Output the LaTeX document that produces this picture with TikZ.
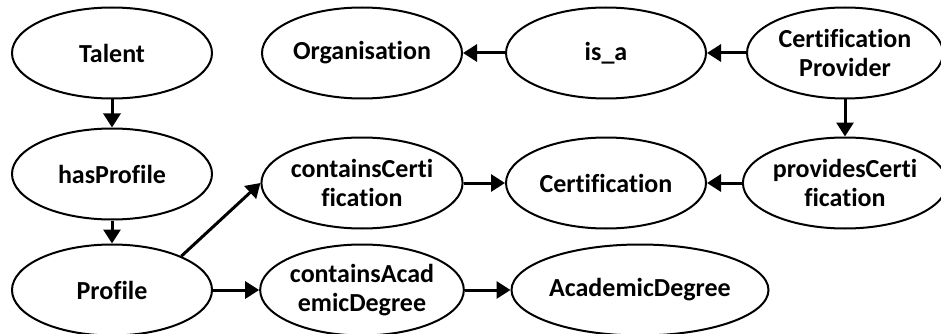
\documentclass[tikz,border=0pt]{standalone}
\usepackage{fontspec}
\setmainfont{Carlito}[Ligatures={NoCommon}]
\usetikzlibrary{shapes.geometric,arrows.meta}
\tikzset{concept/.style={ellipse, draw, line width=2pt, minimum width=200pt,
    minimum height=91pt, inner sep=0pt, align=center,
    font=\bfseries\fontsize{26}{29}\selectfont},
    link/.style={line width=3pt, -{Triangle[length=14pt,width=17pt]}}}

\begin{document}
\begin{tikzpicture}[x=1pt,y=1pt]
     \useasboundingbox (0,0) rectangle (941,-334);
     % left column
     \node[concept] (talent) at (112,-53) {Talent};
     \node[concept] (hasprofile) at (112,-174) {hasProfile};
     \node[concept] (profile) at (112,-290) {Profile};
     % middle columns
     \node[concept] (organisation) at (362,-53) {Organisation};
     \node[concept] (containscert) at (362,-183) {containsCerti\\fication};
     \node[concept] (containsacad) at (362,-290) {containsAcad\\emicDegree};
     \node[concept] (isa) at (606,-53) {is\_a};
     \node[concept] (certification) at (606,-183) {Certification};
     \node[concept, minimum width=254pt] (academicdegree) at (640,-290) {AcademicDegree};
     % right column
     \node[concept, minimum width=196pt] (provider) at (845,-53) {Certification\\Provider};
     \node[concept, minimum width=196pt] (provides) at (845,-183) {providesCerti\\fication};
     % links
     \draw[link] (talent) -- (hasprofile);
     \draw[link] (hasprofile) -- (profile);
     \draw[link] (profile.26) -- (containscert.west);
     \draw[link] (profile) -- (containsacad);
     \draw[link] (containscert) -- (certification);
     \draw[link] (containsacad) -- (academicdegree);
     \draw[link] (provider) -- (isa);
     \draw[link] (isa) -- (organisation);
     \draw[link] (provider) -- (provides);
     \draw[link] (provides) -- (certification);
 \end{tikzpicture}
\end{document}
